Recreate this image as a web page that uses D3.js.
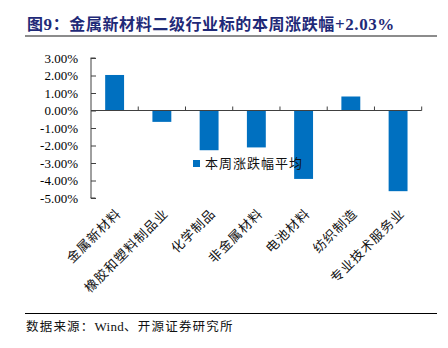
<!DOCTYPE html>
<html>
<head>
<meta charset="utf-8">
<script src="https://cdn.jsdelivr.net/npm/d3@7"></script>
<style>
  body { margin: 0; background: #fff; }
  svg { display: block; }
</style>
</head>
<body>
<div id="chart"></div>
<script>
// weekly change per sub-sector (%)
var categories = ["金属新材料", "橡胶和塑料制品业", "化学制品", "非金属材料", "电池材料", "纺织制造", "专业技术服务业"];
var values = [2.03, -0.65, -2.27, -2.11, -3.91, 0.80, -4.61];
var yTicks = [3, 2, 1, 0, -1, -2, -3, -4, -5];
var seriesName = "本周涨跌幅平均";

var width = 448, height = 348;
var cjk = "'Noto Sans CJK SC', sans-serif";
var serif = "'Liberation Serif', 'Times New Roman', serif";
var blue = "#0070c0";

var svg = d3.select("#chart").append("svg").attr("width", width).attr("height", height);

// title (latin parts in serif) + rule
var title = svg.append("text").attr("x", 27).attr("y", 30)
  .attr("font-family", cjk).attr("font-weight", "bold").attr("font-size", 16)
  .attr("letter-spacing", 0.6).attr("fill", "#1f2a78");
title.append("tspan").text("图");
title.append("tspan").attr("font-family", serif).attr("font-size", 17).text("9");
title.append("tspan").text("：金属新材料二级行业标的本周涨跌幅");
title.append("tspan").attr("font-family", serif).attr("font-size", 17).text("+2.03%");
svg.append("line").attr("x1", 25).attr("x2", 437).attr("y1", 36).attr("y2", 36)
  .attr("stroke", "#8c8c8c").attr("stroke-width", 2);

var x = d3.scaleBand().domain(categories).range([91, 421.7]).paddingInner(0.6).paddingOuter(0.3);
var y = d3.scaleLinear().domain([-5, 3]).range([198, 58]);

// y axis, ticks pointing into the plot
var yAxis = svg.append("g").attr("transform", "translate(91,0)")
  .call(d3.axisLeft(y).tickValues(yTicks).tickSize(-5).tickPadding(13)
    .tickFormat(function(d) { return d.toFixed(2) + "%"; }));
yAxis.select(".domain").attr("stroke", "#404040").attr("d", "M-0.5,58H4.5M0,58V198M-0.5,198H4.5");
yAxis.selectAll(".tick line").attr("stroke", "#404040");
yAxis.selectAll(".tick text").attr("font-family", serif).attr("font-size", 13).attr("fill", "#000");

// bars
svg.selectAll("rect.bar").data(values).enter().append("rect").attr("class", "bar")
  .attr("x", function(d, i) { return x(categories[i]); })
  .attr("width", x.bandwidth())
  .attr("y", function(d) { return y(Math.max(0, d)); })
  .attr("height", function(d) { return Math.abs(y(d) - y(0)); })
  .attr("fill", blue);

// zero line with category separators
var step = x.step();
svg.append("line").attr("x1", 91).attr("x2", 421.7).attr("y1", y(0)).attr("y2", y(0))
  .attr("stroke", "#404040").attr("stroke-width", 1);
svg.selectAll("line.sep").data(categories).enter().append("line").attr("class", "sep")
  .attr("x1", function(d) { return x(d) - x.bandwidth() * 0.75 + step; })
  .attr("x2", function(d) { return x(d) - x.bandwidth() * 0.75 + step; })
  .attr("y1", y(0) - 4).attr("y2", y(0))
  .attr("stroke", "#404040");

// rotated category labels
svg.selectAll("text.cat").data(categories).enter().append("text").attr("class", "cat")
  .attr("transform", function(d) { return "translate(" + (x(d) + x.bandwidth() / 2 + 4) + ",211) rotate(-45)"; })
  .attr("text-anchor", "end").attr("dy", "0.35em")
  .attr("font-family", cjk).attr("font-size", 13).attr("letter-spacing", 1).attr("fill", "#111")
  .text(function(d) { return d; });

// legend
svg.append("rect").attr("x", 193).attr("y", 160).attr("width", 7).attr("height", 7).attr("fill", blue);
svg.append("text").attr("x", 205).attr("y", 163.5).attr("dy", "0.35em")
  .attr("font-family", cjk).attr("font-size", 13).attr("letter-spacing", 1).attr("fill", "#111")
  .text(seriesName);

// source footer
svg.append("line").attr("x1", 25).attr("x2", 437).attr("y1", 313.5).attr("y2", 313.5)
  .attr("stroke", "#000").attr("stroke-width", 1);
var src = svg.append("text").attr("x", 26).attr("y", 327).attr("dy", "0.35em")
  .attr("font-family", cjk).attr("font-size", 12.5).attr("letter-spacing", 1.2).attr("fill", "#111");
src.append("tspan").text("数据来源：");
src.append("tspan").attr("font-family", serif).attr("font-size", 13).attr("letter-spacing", 0.3).text("Wind");
src.append("tspan").text("、开源证券研究所");
</script>
</body>
</html>
